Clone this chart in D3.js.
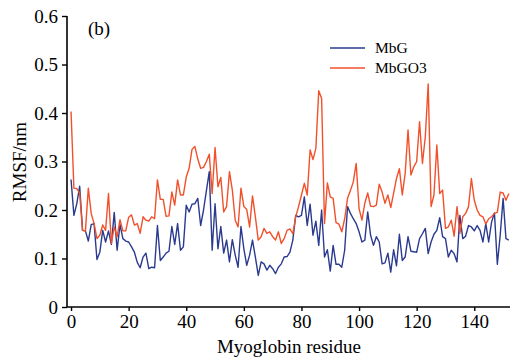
<!DOCTYPE html>
<meta charset="utf-8">
<body style="margin:0;background-color:white;">
<svg width="510" height="364"></svg>
<script src="https://cdnjs.cloudflare.com/ajax/libs/d3/7.8.5/d3.min.js"></script>
<script>

// RMSF per residue (residues 0..152)
var mbG = [0.263,0.189,0.213,0.249,0.158,0.157,0.136,0.170,0.172,0.098,
	0.113,0.158,0.134,0.157,0.129,0.195,0.117,0.170,0.141,0.136,
	0.134,0.124,0.113,0.092,0.081,0.103,0.111,0.079,0.082,0.081,
	0.168,0.096,0.103,0.111,0.115,0.166,0.129,0.172,0.117,0.124,
	0.210,0.196,0.212,0.213,0.224,0.168,0.200,0.240,0.279,0.117,
	0.213,0.120,0.166,0.111,0.138,0.093,0.139,0.107,0.082,0.166,
	0.120,0.086,0.107,0.138,0.103,0.065,0.093,0.089,0.076,0.086,
	0.079,0.069,0.082,0.089,0.103,0.104,0.113,0.138,0.189,0.186,
	0.189,0.227,0.168,0.212,0.148,0.177,0.127,0.200,0.103,0.118,
	0.074,0.127,0.088,0.088,0.082,0.117,0.207,0.193,0.182,0.172,
	0.155,0.134,0.138,0.196,0.148,0.127,0.145,0.134,0.089,0.091,
	0.111,0.072,0.118,0.085,0.150,0.096,0.103,0.145,0.115,0.114,
	0.113,0.141,0.151,0.162,0.110,0.134,0.150,0.158,0.184,0.145,
	0.141,0.103,0.117,0.110,0.093,0.189,0.141,0.146,0.168,0.165,
	0.157,0.168,0.158,0.134,0.172,0.134,0.175,0.194,0.088,0.148,
	0.224,0.141,0.138];

var mbGO3 = [0.403,0.245,0.244,0.235,0.158,0.157,0.245,0.193,0.172,0.141,
	0.148,0.169,0.158,0.234,0.131,0.165,0.145,0.180,0.157,0.157,
	0.185,0.190,0.169,0.172,0.152,0.186,0.179,0.177,0.186,0.182,
	0.262,0.222,0.222,0.187,0.188,0.237,0.210,0.262,0.231,0.231,
	0.268,0.286,0.325,0.331,0.305,0.286,0.288,0.300,0.315,0.234,
	0.329,0.248,0.267,0.196,0.207,0.279,0.241,0.179,0.165,0.245,
	0.207,0.201,0.165,0.229,0.186,0.138,0.145,0.162,0.152,0.155,
	0.145,0.138,0.155,0.131,0.141,0.158,0.161,0.151,0.186,0.207,
	0.231,0.255,0.231,0.324,0.304,0.327,0.446,0.430,0.172,0.256,
	0.227,0.224,0.174,0.171,0.155,0.182,0.224,0.240,0.258,0.296,
	0.203,0.179,0.214,0.235,0.208,0.207,0.210,0.253,0.237,0.214,
	0.231,0.205,0.235,0.265,0.285,0.231,0.275,0.365,0.272,0.289,
	0.300,0.382,0.296,0.351,0.460,0.207,0.231,0.334,0.234,0.241,
	0.162,0.165,0.179,0.146,0.207,0.152,0.186,0.193,0.207,0.265,
	0.220,0.200,0.189,0.186,0.171,0.182,0.186,0.193,0.195,0.237,
	0.235,0.220,0.234];

var seriesNames = ["MbG", "MbGO3"];
var seriesColors = ["#2a3a8f", "#f2502a"];
var xTicks = [0, 20, 40, 60, 80, 100, 120, 140];
var yTicks = [0, 0.1, 0.2, 0.3, 0.4, 0.5, 0.6];

var svg = d3.select("svg");
var font = "'Liberation Serif', 'Times New Roman', serif";

var x = d3.scaleLinear().domain([-1.4, 152.4]).range([67, 510]);
var y = d3.scaleLinear().domain([0, 0.6]).range([307, 16]);

svg.append("defs").append("clipPath").attr("id", "clip")
	.append("rect").attr("x", 67).attr("y", 0).attr("width", 443).attr("height", 307);

var lineGen = d3.line()
	.x(function(d, i) { return x(i); })
	.y(function(d) { return y(d); });

var plot = svg.append("g").attr("clip-path", "url(#clip)");
[mbG, mbGO3].forEach(function(s, k) {
	plot.append("path")
		.attr("d", lineGen(s))
		.attr("fill", "none")
		.attr("stroke", seriesColors[k])
		.attr("stroke-width", 1.4)
		.attr("stroke-linejoin", "round");
});

// axes
var xAxis = svg.append("g").attr("transform", "translate(0,307)")
	.call(d3.axisBottom(x).tickValues(xTicks).tickSizeInner(4).tickSizeOuter(0).tickPadding(4));
var yAxis = svg.append("g").attr("transform", "translate(67,0)")
	.call(d3.axisLeft(y).tickValues(yTicks).tickSizeInner(5).tickSizeOuter(0).tickPadding(4)
		.tickFormat(function(d) { return d === 0 ? "0" : d3.format(".1f")(d); }));

[xAxis, yAxis].forEach(function(a) {
	a.select(".domain").attr("stroke", "#000").attr("stroke-width", 1.6);
	a.selectAll(".tick line").attr("stroke", "#000").attr("stroke-width", 1.4);
	a.selectAll("text").attr("font-family", font).attr("font-size", 19).attr("fill", "#000");
});
xAxis.select(".domain").attr("d", "M67,0H510");
yAxis.select(".domain").attr("d", "M0,16V307");

svg.append("text")
	.attr("x", 289).attr("y", 353)
	.attr("text-anchor", "middle")
	.attr("font-family", font).attr("font-size", 19)
	.text("Myoglobin residue");

svg.append("text")
	.attr("transform", "translate(26,162)rotate(-90)")
	.attr("text-anchor", "middle")
	.attr("font-family", font).attr("font-size", 19)
	.text("RMSF/nm");

svg.append("text")
	.attr("x", 88).attr("y", 35)
	.attr("font-family", font).attr("font-size", 19)
	.text("(b)");

// legend
var legend = svg.append("g").attr("transform", "translate(330,48)");
seriesNames.forEach(function(name, k) {
	var row = legend.append("g").attr("transform", "translate(0," + (k * 20) + ")");
	row.append("line")
		.attr("x1", 0).attr("x2", 35).attr("y1", 0).attr("y2", 0)
		.attr("stroke", seriesColors[k]).attr("stroke-width", 1.4);
	row.append("text")
		.attr("x", 45).attr("y", 5)
		.attr("font-family", font).attr("font-size", 15.5)
		.text(name);
});

</script>
</body>
